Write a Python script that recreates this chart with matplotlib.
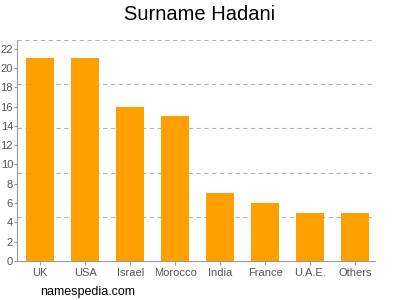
import matplotlib
matplotlib.use('Agg')
import matplotlib.pyplot as plt
import numpy as np

plt.rcParams['font.family'] = ['Liberation Sans', 'DejaVu Sans']

countries = ['UK', 'USA', 'Israel', 'Morocco', 'India', 'France', 'U.A.E.', 'Others']
counts = [21, 21, 16, 15, 7, 6, 5, 5]
y_ticks = list(range(0, 23, 2))
y_top = 22.9

fig = plt.figure(figsize=(4, 3), dpi=100)
ax = fig.add_axes([0.043, 0.13, 0.895, 0.737])

x = np.arange(len(countries))
ax.bar(x, counts, width=0.62, color='#ffa000', zorder=2)

# dashed grid at fifths of the axis height
for g in np.linspace(0, y_top, 6)[1:]:
    ax.axhline(g, color='#b4b4b4', linestyle=(0, (4, 3)), linewidth=0.8, zorder=1)

ax.set_xlim(-0.51, len(countries) - 0.56)
ax.set_ylim(0, y_top)
ax.set_yticks(y_ticks)
ax.set_xticks(x)
ax.set_xticklabels(countries)

for s in ['top', 'right']:
    ax.spines[s].set_visible(False)
for s in ['left', 'bottom']:
    ax.spines[s].set_color('#999999')
    ax.spines[s].set_linewidth(0.8)
ax.tick_params(axis='both', colors='#999999', labelcolor='#555555', labelsize=8, width=0.8)
ax.tick_params(axis='y', length=2, pad=1)
ax.tick_params(axis='x', length=3, pad=2)

fig.text(0.5, 0.95, 'Surname Hadani', ha='center', va='center', fontsize=14.5)
fig.text(0.1, 0.027, 'namespedia.com', ha='left', va='center', fontsize=9)

fig.savefig('out.png', dpi=100)
